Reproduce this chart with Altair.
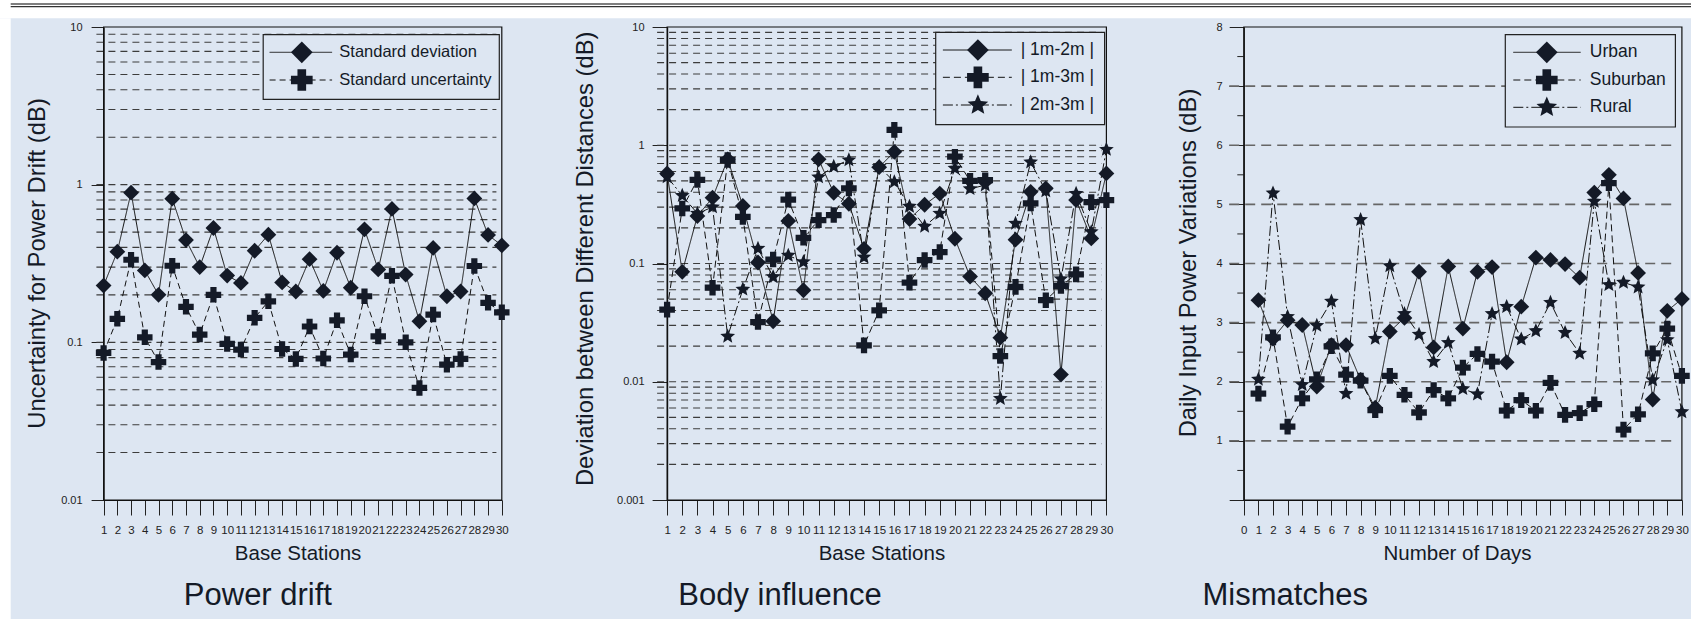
import altair as alt
import pandas as pd

# ------------------------------------------------------------------ data
stations = list(range(1, 31))
days = list(range(1, 31))
days_axis = list(range(0, 31))

drift_series = ["Standard deviation", "Standard uncertainty"]
drift_std_deviation = [0.229, 0.376, 0.89, 0.286, 0.20, 0.815, 0.445, 0.30, 0.531, 0.265,
                       0.238, 0.381, 0.482, 0.24, 0.21, 0.337, 0.212, 0.37, 0.222, 0.521,
                       0.29, 0.702, 0.269, 0.136, 0.397, 0.196, 0.21, 0.818, 0.48, 0.412]
drift_std_uncertainty = [0.0857, 0.141, 0.334, 0.1076, 0.075, 0.306, 0.168, 0.112, 0.20, 0.0977,
                         0.090, 0.143, 0.182, 0.0907, 0.0785, 0.126, 0.079, 0.138, 0.0836, 0.196,
                         0.109, 0.264, 0.100, 0.0514, 0.150, 0.0722, 0.0785, 0.305, 0.178, 0.155]

body_series = ["| 1m-2m |", "| 1m-3m |", "| 2m-3m |"]
body_1m_2m = [0.578, 0.085, 0.252, 0.36, 0.76, 0.307, 0.102, 0.0325, 0.229, 0.0594,
              0.76, 0.396, 0.32, 0.133, 0.653, 0.88, 0.238, 0.314, 0.39, 0.162,
              0.0775, 0.056, 0.0236, 0.159, 0.404, 0.432, 0.0115, 0.344, 0.163, 0.578]
body_1m_3m = [0.0407, 0.292, 0.51, 0.0624, 0.75, 0.248, 0.032, 0.108, 0.347, 0.165,
              0.233, 0.257, 0.432, 0.0203, 0.0402, 1.35, 0.069, 0.107, 0.125, 0.80,
              0.50, 0.506, 0.0165, 0.0634, 0.322, 0.0489, 0.0646, 0.081, 0.33, 0.344]
body_2m_3m = [0.54, 0.375, 0.265, 0.30, 0.0242, 0.0605, 0.134, 0.077, 0.117, 0.103,
              0.538, 0.66, 0.75, 0.113, 0.66, 0.49, 0.304, 0.206, 0.265, 0.637,
              0.428, 0.46, 0.0072, 0.218, 0.72, 0.41, 0.074, 0.39, 0.185, 0.92]

mismatch_series = ["Urban", "Suburban", "Rural"]
mismatch_urban = [3.38, 2.73, 3.04, 2.96, 1.92, 2.62, 2.62, 2.03, 1.56, 2.85,
                  3.08, 3.86, 2.58, 3.95, 2.90, 3.86, 3.94, 2.33, 3.27, 4.10,
                  4.06, 3.99, 3.76, 5.20, 5.50, 5.10, 3.84, 1.70, 3.20, 3.40]
mismatch_suburban = [1.80, 2.75, 1.24, 1.72, 2.04, 2.60, 2.12, 2.02, 1.52, 2.10,
                     1.78, 1.48, 1.86, 1.72, 2.24, 2.47, 2.34, 1.51, 1.69, 1.51,
                     1.98, 1.44, 1.47, 1.62, 5.36, 1.19, 1.45, 2.48, 2.90, 2.10]
mismatch_rural = [2.04, 5.19, 3.10, 1.95, 2.95, 3.36, 1.80, 4.74, 2.73, 3.96,
                  3.15, 2.80, 2.34, 2.66, 1.88, 1.79, 3.15, 3.27, 2.72, 2.86,
                  3.34, 2.83, 2.48, 5.05, 3.64, 3.68, 3.60, 2.03, 2.71, 1.49]

drift_ticks = [0.01, 0.1, 1, 10]
body_ticks = [0.001, 0.01, 0.1, 1, 10]
mismatch_ticks = [0, 1, 2, 3, 4, 5, 6, 7, 8]
mismatch_minor = [0.5, 1.5, 2.5, 3.5, 4.5, 5.5, 6.5, 7.5]
mismatch_grid = [1, 2, 3, 4, 5, 6, 7]
drift_grid = [m * d for d in (0.01, 0.1, 1) for m in range(2, 10)] + [0.1, 1]
body_grid = [m * d for d in (0.001, 0.01, 0.1, 1) for m in range(2, 10)] + [0.01, 0.1, 1]

# ------------------------------------------------------------------ style / layout
FONT = "Liberation Sans, Arial, Helvetica, sans-serif"
INK = "#141a27"
BG = "#dde6f2"
STAR = ("M0,-1L0.264,-0.364L0.951,-0.309L0.428,0.139L0.588,0.809L0,0.45"
        "L-0.588,0.809L-0.428,0.139L-0.951,-0.309L-0.264,-0.364Z")
FIG_W, FIG_H = 1691, 619
HEAD = 18.3
PLOT_TOP, PLOT_BOT = 27, 500
ONE = pd.DataFrame({"k": [0]})


def long_df(xs, names, lists):
    rows = []
    for n, vals in zip(names, lists):
        for x, v in zip(xs, vals):
            rows.append({"x": x, "value": v, "series": n})
    return pd.DataFrame(rows)


def rect(x0, x1, y0, y1, **kw):
    return alt.Chart(ONE).mark_rect(**kw).encode(
        x=alt.value(x0), x2=alt.value(x1), y=alt.value(y0), y2=alt.value(y1))


def panel(df, names, shapes, sizes, dashes, x_dom, x_vals, x_title, x_title_cx,
          xr, y_dom, y_type, y_vals, y_title, y_title_dx, y_title_cy, y_tick, y_pad,
          grid_vals, grid_x, grid_style, leg, caption, caption_cx,
          minor=None, label_expr=None):
    shape_scale = alt.Scale(domain=names, range=shapes)
    size_scale = alt.Scale(domain=names, range=sizes)
    dash_scale = alt.Scale(domain=names, range=dashes)
    x_scale = alt.Scale(domain=x_dom, range=list(xr), nice=False, zero=False)
    ys = dict(domain=y_dom, range=[PLOT_BOT, PLOT_TOP], nice=False)
    if y_type == "log":
        ys["type"] = "log"
    else:
        ys["zero"] = False
    y_scale = alt.Scale(**ys)

    x_ax = alt.Axis(orient="bottom", offset=-(FIG_H - PLOT_BOT),
                    values=x_vals, format="d", tickSize=15, labelPadding=9,
                    labelFontSize=11.5, labelFont=FONT, labelColor="#222",
                    labelAngle=0, labelOverlap=False, labelFlush=False, labelBound=False,
                    labelBaseline="top",
                    title=x_title, titleFont=FONT, titleFontSize=20.5,
                    titleFontWeight="normal", titleColor=INK,
                    titleX=x_title_cx, titleY=59.3, titleAlign="center",
                    titleBaseline="alphabetic", grid=False,
                    domainColor="#111", domainWidth=1.2, tickColor="#222")
    ykw = dict(orient="left", offset=-xr[0], values=y_vals, format="~g",
               tickSize=y_tick, labelPadding=y_pad,
               labelFontSize=11, labelFont=FONT, labelColor="#222",
               title=y_title, titleFont=FONT, titleFontSize=23.8, titleFontWeight="normal",
               titleColor=INK, titleAngle=-90, titleX=y_title_dx, titleY=y_title_cy,
               titleAlign="center", titleBaseline="middle", grid=False,
               domainColor="#111", domainWidth=1.2, tickColor="#222")
    if label_expr:
        ykw["labelExpr"] = label_expr
    y_ax = alt.Axis(**ykw)

    X = alt.X("x:Q", scale=x_scale, axis=x_ax)
    Y = alt.Y("value:Q", scale=y_scale, axis=y_ax)

    layers = []
    gdf = pd.DataFrame({"value": grid_vals})
    layers.append(alt.Chart(gdf).mark_rule(**grid_style).encode(
        x=alt.value(grid_x[0]), x2=alt.value(grid_x[1]), y=Y))
    if minor is not None:
        mdf = pd.DataFrame({"value": minor})
        layers.append(alt.Chart(mdf).mark_rule(color="#222", strokeWidth=1).encode(
            x=alt.value(xr[0] - 6.5), x2=alt.value(xr[0]), y=Y))

    # plot frame
    layers.append(rect(xr[0], xr[1], PLOT_TOP, PLOT_BOT, fillOpacity=0,
                       stroke="#111", strokeWidth=1.2))

    # legend box
    bx0, by0, bx1, by1 = leg["box"]
    layers.append(rect(bx0, bx1, by0, by1, fill=BG, stroke="#222", strokeWidth=1.2))

    layers.append(alt.Chart(df).mark_line(color="#111", strokeWidth=1).encode(
        x=X, y=Y, detail="series:N",
        strokeDash=alt.StrokeDash("series:N", scale=dash_scale, legend=None)))
    layers.append(alt.Chart(df).mark_point(filled=True, opacity=1, color=INK,
                                           strokeWidth=0).encode(
        x=X, y=Y, shape=alt.Shape("series:N", scale=shape_scale, legend=None),
        size=alt.Size("series:N", scale=size_scale, legend=None)))

    # legend entries
    ldf = pd.DataFrame({"series": names, "ly": leg["rows"]})
    LY = alt.Y("ly:Q", scale=None)
    layers.append(alt.Chart(ldf).mark_rule(color="#111", strokeWidth=1).encode(
        x=alt.value(leg["line"][0]), x2=alt.value(leg["line"][1]), y=LY,
        strokeDash=alt.StrokeDash("series:N", scale=dash_scale, legend=None)))
    layers.append(alt.Chart(ldf).mark_point(filled=True, opacity=1, size=470, color=INK,
                                            strokeWidth=0).encode(
        x=alt.value(leg["mark"]), y=LY,
        shape=alt.Shape("series:N", scale=shape_scale, legend=None)))
    layers.append(alt.Chart(ldf).mark_text(align="left", baseline="middle", font=FONT,
                                           fontSize=leg["fs"], color=INK).encode(
        x=alt.value(leg["text"]), y=LY, text="series:N"))

    # caption under the panel
    layers.append(alt.Chart(ONE).mark_text(align="center", baseline="alphabetic", font=FONT,
                                           fontSize=31, color=INK).encode(
        x=alt.value(caption_cx), y=alt.value(605), text=alt.value(caption)))
    return alt.layer(*layers)


grid_log = dict(color="#3c3c3c", strokeWidth=1.1, strokeDash=[7, 5])
grid_lin = dict(color="#666666", strokeWidth=1.6, strokeDash=[10, 6])

# ---- panel 1 : power drift
p1 = panel(
    long_df(stations, drift_series, [drift_std_deviation, drift_std_uncertainty]),
    drift_series, ["diamond", "cross"], [250, 240], [[1, 0], [6, 4]],
    [1, 30], stations, "Base Stations", 297.6,
    (103.6, 501.8), [0.01, 10], "log", drift_ticks,
    "Uncertainty for Power Drift (dB)", -66.5, 263, 12.5, 9,
    drift_grid, (96.4, 496.4), grid_log,
    dict(box=(263.2, 34.7, 499.3, 99.3), rows=[52.3, 80.0], line=(269.6, 332.1),
         mark=301.8, text=339.3, fs=16.5),
    "Power drift", 257.9)

# ---- panel 2 : body influence
p2 = panel(
    long_df(stations, body_series, [body_1m_2m, body_1m_3m, body_2m_3m]),
    body_series, ["diamond", "cross", STAR], [250, 240, 290], [[1, 0], [7, 4], [10, 3, 2, 3]],
    [1, 30], stations, "Base Stations", 881.4,
    (667.1, 1106.4), [0.001, 10], "log", body_ticks,
    "Deviation between Different Distances (dB)", -82, 258.3, 15, 8,
    body_grid, (657.1, 1101.4), grid_log,
    dict(box=(935.7, 32.3, 1104.6, 124.7), rows=[50.0, 77.3, 105.0], line=(942.9, 1011.8),
         mark=977.9, text=1020.7, fs=17.5),
    "Body influence", 780.0)

# ---- panel 3 : mismatches
p3 = panel(
    long_df(days, mismatch_series, [mismatch_urban, mismatch_suburban, mismatch_rural]),
    mismatch_series, ["diamond", "cross", STAR], [250, 240, 290], [[1, 0], [7, 4], [10, 3, 2, 3]],
    [0, 30], days_axis, "Number of Days", 1457.0,
    (1243.8, 1681.9), [0, 8], "linear", mismatch_ticks,
    "Daily Input Power Variations (dB)", -55.5, 262.5, 14.6, 7.2,
    mismatch_grid, (1229.2, 1675.4), grid_lin,
    dict(box=(1505.3, 34.7, 1675.4, 127.0), rows=[52.3, 80.0, 107.3], line=(1513.3, 1580.7),
         mark=1546.8, text=1589.8, fs=17.5),
    "Mismatches", 1285.2,
    minor=mismatch_minor, label_expr="datum.value == 0 ? '' : datum.label")

# ---- page decoration: white header with double rule, white left margin
deco = alt.layer(
    rect(0, FIG_W, 0, HEAD, fill="#ffffff"),
    rect(0, 10.7, HEAD, FIG_H, fill="#ffffff"),
    rect(10.7, FIG_W, 3.3, 4.7, fill="#555555"),
    rect(10.7, FIG_W, 5.9, 7.3, fill="#333333"),
)

chart = alt.layer(deco, p1, p2, p3).resolve_scale(
    x="independent", y="independent", shape="independent",
    strokeDash="independent", size="independent"
).properties(
    width=FIG_W, height=FIG_H, padding=0, background=BG
).configure_view(stroke=None)

chart.save("out.html", embed_options={"renderer": "svg", "actions": False})
